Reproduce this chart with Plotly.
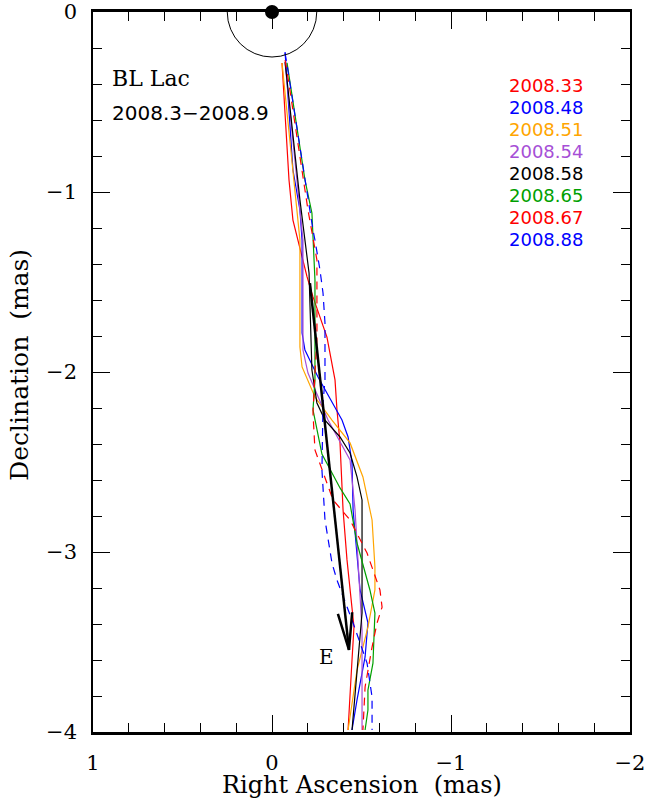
import numpy as np
import plotly.graph_objects as go

# ---------------- data (RA, Dec in mas) ----------------
epochs = ["2008.33", "2008.48", "2008.51", "2008.54", "2008.58", "2008.65", "2008.67", "2008.88"]
colors = ["#ff0000", "#0000ff", "#ffa500", "#a64fd6", "#000000", "#00a000", "#ff0000", "#0000ff"]
dashes = ["solid", "solid", "solid", "solid", "solid", "solid", "8px,6px", "8px,6px"]

ra_0833 = [-0.056, -0.095, -0.117, -0.168, -0.196, -0.229, -0.307, -0.352, -0.363, -0.380, -0.397, -0.419, -0.447, -0.458, -0.447, -0.425]
dec_0833 = [-0.283, -0.933, -1.156, -1.361, -1.472, -1.583, -1.806, -2.044, -2.211, -2.394, -2.767, -3.044, -3.306, -3.417, -3.600, -3.989]

ra_0848 = [-0.073, -0.117, -0.156, -0.168, -0.168, -0.184, -0.257, -0.391, -0.425, -0.447, -0.453, -0.475, -0.492, -0.536, -0.520, -0.475, -0.447]
dec_0848 = [-0.222, -0.878, -1.100, -1.267, -1.783, -1.878, -2.028, -2.267, -2.361, -2.506, -2.767, -3.044, -3.211, -3.394, -3.583, -3.822, -3.989]

ra_0851 = [-0.056, -0.156, -0.156, -0.168, -0.240, -0.335, -0.436, -0.508, -0.559, -0.575, -0.575, -0.536, -0.475, -0.425]
dec_0851 = [-0.283, -1.267, -1.861, -1.972, -2.139, -2.267, -2.394, -2.583, -2.822, -3.083, -3.211, -3.417, -3.656, -3.989]

ra_0854 = [-0.073, -0.173, -0.173, -0.201, -0.313, -0.436, -0.464, -0.492, -0.503, -0.503]
dec_0854 = [-0.283, -1.267, -1.878, -2.006, -2.267, -2.489, -2.767, -3.211, -3.433, -3.989]

ra_0858 = [-0.073, -0.156, -0.207, -0.218, -0.223, -0.251, -0.296, -0.380, -0.436, -0.475, -0.503, -0.503, -0.480, -0.447]
dec_0858 = [-0.278, -1.044, -1.450, -1.767, -1.989, -2.172, -2.267, -2.361, -2.450, -2.583, -2.711, -3.339, -3.600, -3.989]

ra_0865 = [-0.084, -0.184, -0.223, -0.240, -0.240, -0.229, -0.279, -0.380, -0.436, -0.475, -0.547, -0.575, -0.564, -0.536, -0.536, -0.520]
dec_0865 = [-0.283, -0.933, -1.117, -1.489, -2.044, -2.211, -2.456, -2.644, -2.733, -2.950, -3.211, -3.339, -3.617, -3.767, -3.878, -3.989]

ra_0867 = [-0.073, -0.089, -0.201, -0.251, -0.251, -0.251, -0.240, -0.229, -0.240, -0.279, -0.341, -0.436, -0.531, -0.603, -0.615, -0.587, -0.559, -0.520, -0.508]
dec_0867 = [-0.267, -0.361, -1.100, -1.378, -1.544, -1.822, -2.006, -2.228, -2.433, -2.544, -2.711, -2.822, -3.006, -3.211, -3.306, -3.394, -3.528, -3.750, -3.989]

ra_0888 = [-0.073, -0.084, -0.229, -0.240, -0.268, -0.285, -0.296, -0.296, -0.296, -0.285, -0.279, -0.296, -0.335, -0.363, -0.453, -0.531, -0.559, -0.559]
dec_0888 = [-0.228, -0.294, -1.211, -1.267, -1.433, -1.561, -1.728, -1.917, -2.044, -2.172, -2.544, -2.822, -3.061, -3.156, -3.394, -3.617, -3.806, -3.989]

ra_list = [ra_0833, ra_0848, ra_0851, ra_0854, ra_0858, ra_0865, ra_0867, ra_0888]
dec_list = [dec_0833, dec_0848, dec_0851, dec_0854, dec_0858, dec_0865, dec_0867, dec_0888]

# component E trajectory
e_ra = [-0.212, -0.430]
e_dec = [-1.506, -3.544]

core_ra, core_dec = [0.0], [0.0]
beam_radius = 0.25

x_ticks = [1, 0, -1, -2]
y_ticks = [0, -1, -2, -3, -4]

# ---------------- figure ----------------
fig = go.Figure()

for ra, dec, col, dsh, name in zip(ra_list, dec_list, colors, dashes, epochs):
    fig.add_trace(go.Scatter(x=ra, y=dec, mode="lines", name=name,
                             line=dict(color=col, width=1.2, dash=dsh),
                             showlegend=False))

# E trajectory with open arrow head
fig.add_trace(go.Scatter(x=e_ra, y=e_dec, mode="lines",
                         line=dict(color="black", width=2.5), showlegend=False))
tip = np.array([e_ra[-1], e_dec[-1]])
back = np.array([e_ra[0] - e_ra[-1], e_dec[0] - e_dec[-1]])
back = back / np.linalg.norm(back)
barbs = []
for ang in (11, -11):
    a = np.radians(ang)
    rot = np.array([[np.cos(a), -np.sin(a)], [np.sin(a), np.cos(a)]])
    barbs.append(tip + 0.21 * rot @ back)
fig.add_trace(go.Scatter(x=[barbs[0][0], tip[0], barbs[1][0]],
                         y=[barbs[0][1], tip[1], barbs[1][1]], mode="lines",
                         line=dict(color="black", width=2.5), showlegend=False))

# core
fig.add_trace(go.Scatter(x=core_ra, y=core_dec, mode="markers",
                         marker=dict(color="black", size=14), cliponaxis=False,
                         showlegend=False))

fig.add_shape(type="circle", xref="x", yref="y",
              x0=-beam_radius, x1=beam_radius, y0=-beam_radius, y1=beam_radius,
              line=dict(color="black", width=1))

annotations = []
leg_x, leg_y0, leg_dy = -1.313, -0.411, 0.1217
for i, (name, col) in enumerate(zip(epochs, colors)):
    annotations.append(dict(x=leg_x, y=leg_y0 - i * leg_dy, xref="x", yref="y",
                            text=name, showarrow=False, xanchor="left", yanchor="middle",
                            font=dict(family="DejaVu Sans", size=18, color=col)))

annotations += [
    dict(x=0.905, y=-0.367, xref="x", yref="y", text="BL Lac", showarrow=False,
         xanchor="left", yanchor="middle", font=dict(family="DejaVu Serif", size=22, color="black")),
    dict(x=0.905, y=-0.561, xref="x", yref="y", text="2008.3\u22122008.9", showarrow=False,
         xanchor="left", yanchor="middle", font=dict(family="DejaVu Sans", size=20, color="black")),
    dict(x=-0.307, y=-3.583, xref="x", yref="y", text="E", showarrow=False,
         xanchor="center", yanchor="middle", font=dict(family="DejaVu Serif", size=20, color="black")),
    dict(x=0.5, y=-0.0736, xref="paper", yref="paper", text="Right Ascension  (mas)",
         showarrow=False, xanchor="center", yanchor="middle",
         font=dict(family="DejaVu Serif", size=24, color="black")),
    dict(x=-0.136, y=0.51, xref="paper", yref="paper", text="Declination  (mas)",
         showarrow=False, xanchor="center", yanchor="middle", textangle=-90,
         font=dict(family="DejaVu Serif", size=25, color="black")),
]

tickfont = dict(family="DejaVu Serif", size=21, color="black")
fig.update_layout(
    width=647, height=799,
    margin=dict(l=93, r=17, t=12, b=67, autoexpand=False),
    paper_bgcolor="white", plot_bgcolor="white",
    annotations=annotations,
    xaxis=dict(range=[1, -2], tickvals=x_ticks, ticks="inside", ticklen=17, tickwidth=1.3,
               tickcolor="black", showgrid=False, zeroline=False, showline=True,
               linecolor="black", linewidth=2.5, mirror="ticks", tickfont=tickfont,
               ticklabelstandoff=10, automargin=False,
               minor=dict(dtick=0.2, ticks="inside", ticklen=9, tickwidth=1.3, tickcolor="black",
                          showgrid=False)),
    yaxis=dict(range=[-4, 0], tickvals=y_ticks, ticks="inside", ticklen=17, tickwidth=1.3,
               tickcolor="black", showgrid=False, zeroline=False, showline=True,
               linecolor="black", linewidth=1.5, mirror="ticks", tickfont=tickfont,
               ticklabelstandoff=10, automargin=False,
               minor=dict(dtick=0.2, ticks="inside", ticklen=9, tickwidth=1.3, tickcolor="black",
                          showgrid=False)),
)

fig.write_html("out.html", config={"displayModeBar": False},
               post_script="document.body.style.margin='0';")
